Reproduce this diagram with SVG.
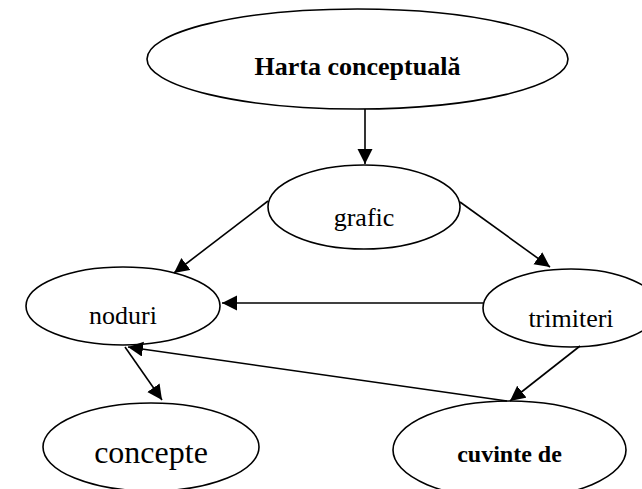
<svg xmlns="http://www.w3.org/2000/svg" width="642" height="489" viewBox="0 0 642 489">
<style>
.n ellipse{fill:#fff;stroke:#000;stroke-width:1.6}
text{font-family:"Liberation Serif","Times New Roman",serif;fill:#000;text-anchor:middle}
.b{font-weight:bold}
.e line{stroke:#000;stroke-width:1.6;marker-end:url(#ah)}
</style>
<defs>
<marker id="ah" markerUnits="userSpaceOnUse" markerWidth="16" markerHeight="16" refX="15" refY="7.5" orient="auto">
<path d="M0,0 L15,7.5 L0,15 z" fill="#000"/>
</marker>
</defs>
<rect width="642" height="489" fill="#fff"/>
<g class="n" id="harta"><ellipse cx="357.5" cy="59" rx="210.5" ry="50"/><text class="b" x="357.5" y="75" font-size="26">Harta conceptuală</text></g>
<g class="n" id="grafic"><ellipse cx="364" cy="207" rx="96" ry="42"/><text x="364" y="226" font-size="26">grafic</text></g>
<g class="n" id="noduri"><ellipse cx="123" cy="306" rx="97" ry="39"/><text x="123" y="324" font-size="26">noduri</text></g>
<g class="n" id="trimiteri"><ellipse cx="571" cy="308" rx="88" ry="39"/><text x="571" y="327" font-size="26">trimiteri</text></g>
<g class="n" id="concepte"><ellipse cx="151" cy="447" rx="108" ry="44"/><text x="151" y="463" font-size="32">concepte</text></g>
<g class="n" id="cuvinte"><ellipse cx="509.5" cy="450" rx="116.5" ry="49"/><text class="b" x="509.5" y="462" font-size="24">cuvinte de</text></g>
<g class="e" id="connectors">
<line x1="365" y1="109" x2="365" y2="164"/>
<line x1="268" y1="201" x2="174" y2="273"/>
<line x1="460" y1="202" x2="550" y2="267"/>
<line x1="483" y1="303" x2="222" y2="303"/>
<line x1="125" y1="347" x2="162" y2="400"/>
<line x1="507" y1="401" x2="128" y2="347"/>
<line x1="580" y1="346" x2="510" y2="401"/>
</g>
</svg>
